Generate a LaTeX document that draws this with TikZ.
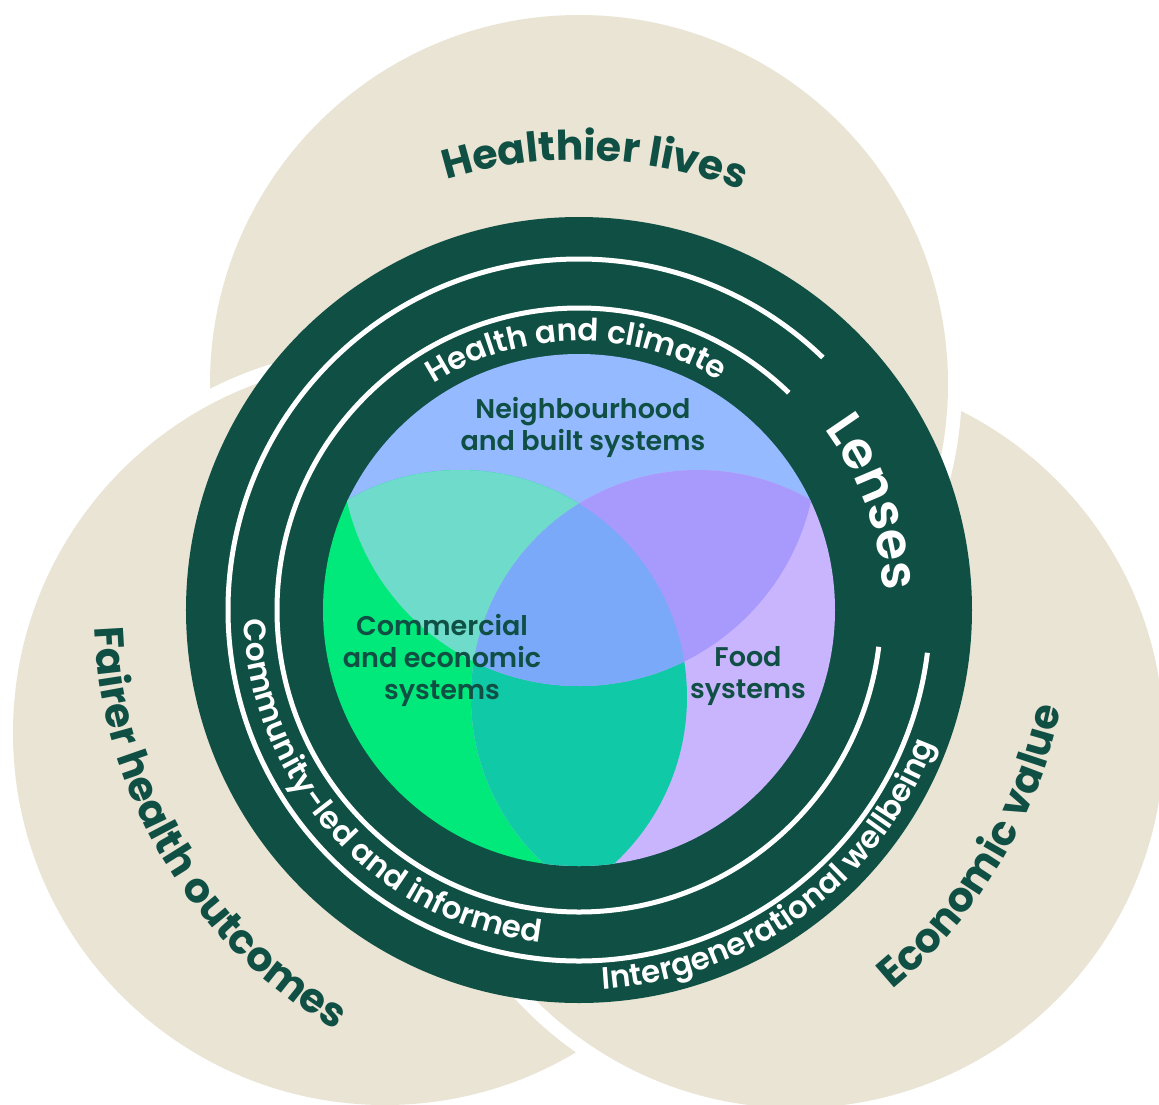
\documentclass[tikz,border=0pt]{standalone}
\usepackage{fontspec}
\setmainfont{Poppins}[BoldFont={Poppins SemiBold}]
\newfontfamily\heavyfont{Poppins Bold}
\usetikzlibrary{decorations.text}

\definecolor{lensgreen}{HTML}{0F4F44}
\definecolor{sand}{HTML}{E9E4D4}
\definecolor{nbhdblue}{HTML}{95BAFF}
\definecolor{commgreen}{HTML}{00E97A}
\definecolor{foodlilac}{HTML}{C8B5FD}
\definecolor{mint}{HTML}{6EDBCB}
\definecolor{violet}{HTML}{A899FD}
\definecolor{teal}{HTML}{10C9A7}
\definecolor{core}{HTML}{7BA9F9}

\def\ringfont{\color{white}\bfseries\fontsize{31}{36}\selectfont}
\def\lensfont{\color{white}\bfseries\fontsize{51}{60}\selectfont}
\def\goalfont{\color{lensgreen}\heavyfont\fontsize{41}{50}\selectfont}
% text on an arc round the centre: [format](mid angle:half span:radius){text}
\def\cwtext[#1](#2:#3:#4)#5{\path[decorate,decoration={text along path,text align=center,text={|#1|#5}}] ({#2+#3}:#4) arc[start angle={#2+#3}, end angle={#2-#3}, radius=#4];}
\def\ccwtext[#1](#2:#3:#4)#5{\path[decorate,decoration={text along path,text align=center,text={|#1|#5}}] ({#2-#3}:#4) arc[start angle={#2-#3}, end angle={#2+#3}, radius=#4];}

\begin{document}
\begin{tikzpicture}[x=1pt,y=1pt,
	venntext/.style={text=lensgreen, font=\bfseries\fontsize{27}{32}\selectfont, align=center, inner sep=0pt}]
			%%%%% START %%%%%
			\useasboundingbox (-579,-494) rectangle (580,610);
			
			% outcome circles
			\fill[white] (217,-130) circle (382);
			\fill[sand] (217,-130) circle (368);
			\fill[white] (0,226) circle (383);
			\fill[sand] (0,226) circle (369);
			\fill[white] (-194,-123) circle (386);
			\fill[sand] (-194,-123) circle (372);
			\begin{scope}
				\clip (-579,-494) rectangle (580,-200);
				\fill[white] (217,-130) circle (382);
				\fill[sand] (217,-130) circle (368);
			\end{scope}
			
			% lenses
			\fill[lensgreen] (0,0) circle (393);
			\draw[white, line width=5] (46:351) arc (46:353:351);
			\draw[white, line width=5] (46:302) arc (46:353:302);
			
			% systems
			\begin{scope}
				\clip (0,0) circle (256);
				\fill[nbhdblue] (0,162) circle (238);
				\fill[commgreen] (-119,-87) circle (227);
				\fill[foodlilac] (119,-87) circle (227);
				\begin{scope}
					\clip (-119,-87) circle (227);
					\fill[teal] (119,-87) circle (227);
				\end{scope}
				\begin{scope}
					\clip (0,162) circle (238);
					\fill[mint] (-119,-87) circle (227);
					\fill[violet] (119,-87) circle (227);
					\clip (-119,-87) circle (227);
					\fill[core] (119,-87) circle (227);
				\end{scope}
			\end{scope}
			
			\node[venntext] (nbhd) at (4,183) {Neighbourhood\\and built systems};
			\node[venntext] (comm) at (-137,-50) {Commercial\\and economic\\systems};
			\node[venntext] (food) at (169,-66) {Food\\systems};
			
			% ring texts
			\cwtext[\ringfont](90.6:60:269){Health and climate}
			\cwtext[\lensfont](20:40:305){Lenses}
			\ccwtext[\ringfont](222.5:70:335){Community-led and informed}
			\ccwtext[\ringfont](306.5:60:380){Intergenerational wellbeing}
			
			% outcome texts
			\cwtext[\goalfont](88:40:450){Healthier lives}
			\ccwtext[\goalfont](211:50:485){Fairer health outcomes}
			\ccwtext[\goalfont](329:40:492){Economic value}
			%%%%% END %%%%%
\end{tikzpicture}
\end{document}
